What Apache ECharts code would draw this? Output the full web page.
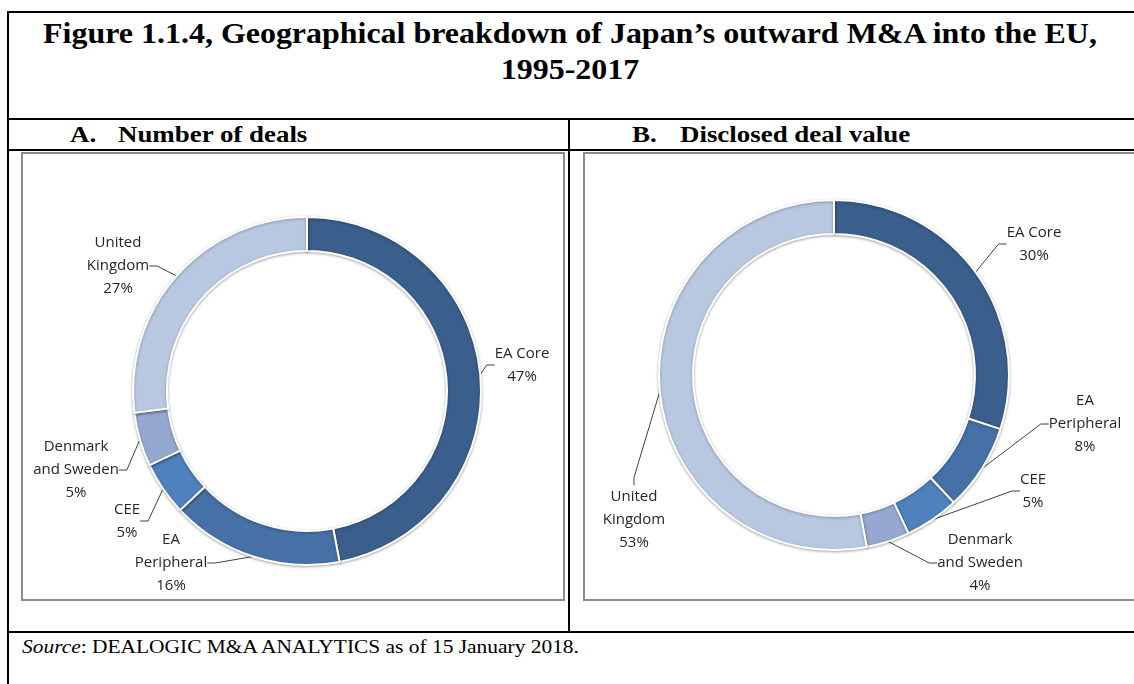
<!DOCTYPE html>
<html lang="en">
<head>
    <meta charset="UTF-8">
    <title>Figure 1.1.4</title>
    <script src="https://cdn.jsdelivr.net/npm/echarts@6/dist/echarts.min.js"></script>
    <style>
        html, body { margin: 0; padding: 0; background: #fff; }
        #page { position: relative; width: 1134px; height: 684px; overflow: hidden; font-family: "Liberation Serif", "Times New Roman", serif; color: #000; }
        .ln { position: absolute; background: #000; }
        .box { position: absolute; border: 2px solid #8c8c8c; box-sizing: border-box; }
        .title { position: absolute; left: 0; width: 1140px; text-align: center; font-weight: bold; font-size: 30px; line-height: 36px; transform: scaleX(1.065); }
        .sub { position: absolute; top: 120px; font-weight: bold; font-size: 23px; line-height: 30px; white-space: nowrap; transform: scaleX(1.17); transform-origin: left center; }
        .sub span { display: inline-block; width: 41px; }
        #source { position: absolute; left: 22px; top: 635px; font-size: 18px; line-height: 24px; white-space: nowrap; transform: scaleX(1.19); transform-origin: left center; }
        .chart { position: absolute; left: 0; top: 0; width: 1134px; height: 684px; }
    </style>
</head>
<body>
<div id="page">
    <!--表格框线-->
    <div class="ln" style="left:7px;top:11px;width:1127px;height:2px;"></div>
    <div class="ln" style="left:7px;top:11px;width:2px;height:673px;"></div>
    <div class="ln" style="left:7px;top:118px;width:1127px;height:2px;"></div>
    <div class="ln" style="left:7px;top:149px;width:1127px;height:2px;"></div>
    <div class="ln" style="left:568px;top:118px;width:2px;height:514px;"></div>
    <div class="ln" style="left:7px;top:631px;width:1127px;height:2px;"></div>
    <div class="box" style="left:21px;top:152px;width:544px;height:449px;"></div>
    <div class="box" style="left:583px;top:152px;width:560px;height:449px;"></div>

    <div class="title" style="top:15px;">Figure 1.1.4, Geographical breakdown of Japan’s outward M&amp;A into the EU,</div>
    <div class="title" style="top:51px;">1995-2017</div>
    <div class="sub" style="left:70px;"><span>A.</span>Number of deals</div>
    <div class="sub" style="left:632px;"><span>B.</span>Disclosed deal value</div>
    <div id="source"><i>Source</i>: DEALOGIC M&amp;A ANALYTICS as of 15 January 2018.</div>

    <div id="chartA" class="chart"></div>
    <div id="chartB" class="chart"></div>
</div>
<script>
    // categories, clockwise from 12 o'clock
    const regions = ['EA Core', 'EA Peripheral', 'CEE', 'Denmark and Sweden', 'United Kingdom'];
    const regionLabels = ['EA Core', 'EA\nPeripheral', 'CEE', 'Denmark\nand Sweden', 'United\nKingdom'];
    const dealsShare = [47, 16, 5, 5, 27];   // A. Number of deals, %
    const valueShare = [30, 8, 5, 4, 53];    // B. Disclosed deal value, %
    const colors = ['#3a5f8d', '#4571a7', '#4f81bd', '#95a9d0', '#b9c8e1'];

    // 标签位置 (label block centre, page px) -- layout only
    const dealsLabelPos = [[522, 365], [171, 563], [127, 521], [76, 470], [118, 266]];
    const valueLabelPos = [[1034, 244], [1085, 424], [1033, 491], [980, 563], [634, 520]];

    function donut(values, center, radius, labelPos) {
        return {
            type: 'pie',
            center: center,
            radius: radius,
            startAngle: 90,
            clockwise: true,
            silent: true,
            animation: false,
            avoidLabelOverlap: false,
            data: regions.map(function (name, i) {
                return {name: name, value: values[i], itemStyle: {color: colors[i]}};
            }),
            itemStyle: {borderColor: '#fff', borderWidth: 2, shadowColor: 'rgba(0,0,0,0.3)', shadowBlur: 3, shadowOffsetY: 1},
            label: {
                show: true,
                position: 'outside',
                formatter: function (p) {
                    return regionLabels[p.dataIndex] + '\n' + p.value + '%';
                },
                fontFamily: '"Open Sans", "Noto Sans", sans-serif',
                fontSize: 15,
                lineHeight: 23,
                color: '#262626',
                align: 'center'
            },
            labelLine: {show: true, length: 10, length2: 8, lineStyle: {color: '#404040', width: 1}},
            labelLayout: function (params) {
                let p = labelPos[params.dataIndex];
                return {x: p[0], y: p[1], align: 'center', verticalAlign: 'middle'};
            }
        };
    }

    let chartA = echarts.init(document.getElementById('chartA'));
    chartA.setOption({series: [donut(dealsShare, [307, 391], [140, 174], dealsLabelPos)]});

    let chartB = echarts.init(document.getElementById('chartB'));
    chartB.setOption({series: [donut(valueShare, [834, 375], [141, 175], valueLabelPos)]});
</script>
</body>
</html>
